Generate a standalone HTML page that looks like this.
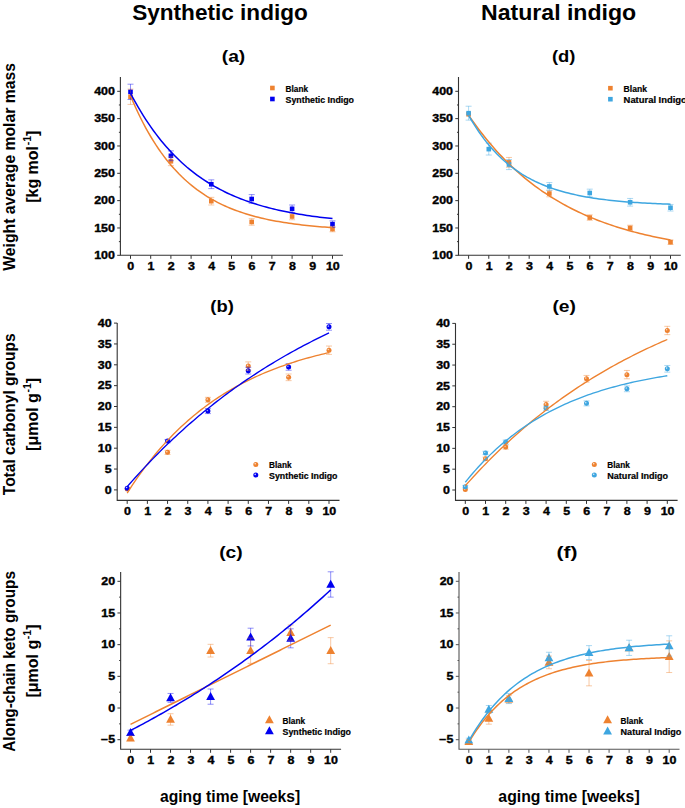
<!DOCTYPE html>
<html><head><meta charset="utf-8">
<style>
html,body{margin:0;padding:0;background:#fff;overflow:hidden}
svg{display:block}
text{font-family:"Liberation Sans", sans-serif;font-weight:bold;fill:#000}
.tk{font-size:10.2px;stroke:#000;stroke-width:0.35px}
.lg{font-size:8.6px;stroke:#000;stroke-width:0.2px}
.pl{font-size:17px}
.ti{font-size:22px}
.al{font-size:16px}
.al2{font-size:16px}
.xl{font-size:16.5px}
</style></head><body>
<svg width="685" height="808" viewBox="0 0 685 808">
<rect width="685" height="808" fill="#fff"/>
<text class="ti" x="220" y="19.7" text-anchor="middle" textLength="175.6" lengthAdjust="spacingAndGlyphs">Synthetic indigo</text>
<text class="ti" x="558.6" y="19.7" text-anchor="middle" textLength="155.2" lengthAdjust="spacingAndGlyphs">Natural indigo</text>
<text class="pl" x="233.5" y="61.5" text-anchor="middle" textLength="23.5" lengthAdjust="spacingAndGlyphs">(a)</text>
<text class="pl" x="563.7" y="61.5" text-anchor="middle" textLength="23.5" lengthAdjust="spacingAndGlyphs">(d)</text>
<text class="pl" x="222.1" y="312" text-anchor="middle" textLength="23.5" lengthAdjust="spacingAndGlyphs">(b)</text>
<text class="pl" x="564.2" y="312" text-anchor="middle" textLength="23.5" lengthAdjust="spacingAndGlyphs">(e)</text>
<text class="pl" x="230.9" y="558" text-anchor="middle" textLength="23.5" lengthAdjust="spacingAndGlyphs">(c)</text>
<text class="pl" x="567" y="558" text-anchor="middle" textLength="21" lengthAdjust="spacingAndGlyphs">(f)</text>
<g transform="translate(15,166.9) rotate(-90)"><text class="al" x="0" y="0" text-anchor="middle" textLength="207.6" lengthAdjust="spacingAndGlyphs">Weight average molar mass</text></g>
<g transform="translate(37.8,166.75) rotate(-90)"><text class="al2" x="0" y="0" text-anchor="middle">[kg mol<tspan font-size="10.5" dx="0.6" dy="-6.5">-1</tspan><tspan dy="6.5">]</tspan></text></g>
<g transform="translate(15,414.3) rotate(-90)"><text class="al" x="0" y="0" text-anchor="middle" textLength="161.8" lengthAdjust="spacingAndGlyphs">Total carbonyl groups</text></g>
<g transform="translate(37.8,414.4) rotate(-90)"><text class="al2" x="0" y="0" text-anchor="middle">[μmol g<tspan font-size="10.5" dx="0.6" dy="-6.5">-1</tspan><tspan dy="6.5">]</tspan></text></g>
<g transform="translate(15,661.4) rotate(-90)"><text class="al" x="0" y="0" text-anchor="middle" textLength="180.7" lengthAdjust="spacingAndGlyphs">Along-chain keto groups</text></g>
<g transform="translate(37.8,661) rotate(-90)"><text class="al2" x="0" y="0" text-anchor="middle">[μmol g<tspan font-size="10.5" dx="0.6" dy="-6.5">-1</tspan><tspan dy="6.5">]</tspan></text></g>
<text class="xl" x="230.1" y="801.7" text-anchor="middle" textLength="140.3" lengthAdjust="spacingAndGlyphs">aging time [weeks]</text>
<text class="xl" x="569" y="801.7" text-anchor="middle" textLength="141.3" lengthAdjust="spacingAndGlyphs">aging time [weeks]</text>
<path d="M120.40 77.10 V255.30 H342.90" fill="none" stroke="#333333" stroke-width="1.1"/>
<path d="M117.20 255.30 H120.40 M117.20 227.97 H120.40 M117.20 200.63 H120.40 M117.20 173.30 H120.40 M117.20 145.97 H120.40 M117.20 118.63 H120.40 M117.20 91.30 H120.40 M118.90 241.63 H120.40 M118.90 214.30 H120.40 M118.90 186.97 H120.40 M118.90 159.63 H120.40 M118.90 132.30 H120.40 M118.90 104.97 H120.40 M130.50 255.30 V258.80 M150.70 255.30 V258.80 M170.90 255.30 V258.80 M191.10 255.30 V258.80 M211.30 255.30 V258.80 M231.50 255.30 V258.80 M251.70 255.30 V258.80 M271.90 255.30 V258.80 M292.10 255.30 V258.80 M312.30 255.30 V258.80 M332.50 255.30 V258.80" fill="none" stroke="#333333" stroke-width="1"/>
<text class="tk" x="0" y="0" text-anchor="end" transform="translate(114.90,259.00) scale(1.22,1)">100</text>
<text class="tk" x="0" y="0" text-anchor="end" transform="translate(114.90,231.67) scale(1.22,1)">150</text>
<text class="tk" x="0" y="0" text-anchor="end" transform="translate(114.90,204.33) scale(1.22,1)">200</text>
<text class="tk" x="0" y="0" text-anchor="end" transform="translate(114.90,177.00) scale(1.22,1)">250</text>
<text class="tk" x="0" y="0" text-anchor="end" transform="translate(114.90,149.67) scale(1.22,1)">300</text>
<text class="tk" x="0" y="0" text-anchor="end" transform="translate(114.90,122.33) scale(1.22,1)">350</text>
<text class="tk" x="0" y="0" text-anchor="end" transform="translate(114.90,95.00) scale(1.22,1)">400</text>
<text class="tk" x="0" y="0" text-anchor="middle" transform="translate(130.80,269.80) scale(1.22,1)">0</text>
<text class="tk" x="0" y="0" text-anchor="middle" transform="translate(151.00,269.80) scale(1.22,1)">1</text>
<text class="tk" x="0" y="0" text-anchor="middle" transform="translate(171.20,269.80) scale(1.22,1)">2</text>
<text class="tk" x="0" y="0" text-anchor="middle" transform="translate(191.40,269.80) scale(1.22,1)">3</text>
<text class="tk" x="0" y="0" text-anchor="middle" transform="translate(211.60,269.80) scale(1.22,1)">4</text>
<text class="tk" x="0" y="0" text-anchor="middle" transform="translate(231.80,269.80) scale(1.22,1)">5</text>
<text class="tk" x="0" y="0" text-anchor="middle" transform="translate(252.00,269.80) scale(1.22,1)">6</text>
<text class="tk" x="0" y="0" text-anchor="middle" transform="translate(272.20,269.80) scale(1.22,1)">7</text>
<text class="tk" x="0" y="0" text-anchor="middle" transform="translate(292.40,269.80) scale(1.22,1)">8</text>
<text class="tk" x="0" y="0" text-anchor="middle" transform="translate(312.60,269.80) scale(1.22,1)">9</text>
<text class="tk" x="0" y="0" text-anchor="middle" transform="translate(332.80,269.80) scale(1.22,1)">10</text>
<rect x="128.20" y="94.47" width="4.6" height="4.6" fill="#EE8230"/>
<rect x="168.60" y="158.97" width="4.6" height="4.6" fill="#EE8230"/>
<rect x="209.00" y="198.88" width="4.6" height="4.6" fill="#EE8230"/>
<rect x="249.40" y="219.65" width="4.6" height="4.6" fill="#EE8230"/>
<rect x="289.80" y="214.19" width="4.6" height="4.6" fill="#EE8230"/>
<rect x="330.20" y="226.76" width="4.6" height="4.6" fill="#EE8230"/>
<rect x="128.20" y="89.55" width="4.6" height="4.6" fill="#0000F0"/>
<rect x="168.60" y="153.51" width="4.6" height="4.6" fill="#0000F0"/>
<rect x="209.00" y="181.93" width="4.6" height="4.6" fill="#0000F0"/>
<rect x="249.40" y="196.69" width="4.6" height="4.6" fill="#0000F0"/>
<rect x="289.80" y="206.53" width="4.6" height="4.6" fill="#0000F0"/>
<rect x="330.20" y="221.84" width="4.6" height="4.6" fill="#0000F0"/>
<path d="M130.50 89.11 V104.42 M127.50 89.11 H133.50 M127.50 104.42 H133.50 M170.90 156.90 V165.65 M167.90 156.90 H173.90 M167.90 165.65 H173.90 M211.30 197.35 V205.01 M208.30 197.35 H214.30 M208.30 205.01 H214.30 M251.70 218.67 V225.23 M248.70 218.67 H254.70 M248.70 225.23 H254.70 M292.10 213.21 V219.77 M289.10 213.21 H295.10 M289.10 219.77 H295.10 M332.50 226.33 V231.79 M329.50 226.33 H335.50 M329.50 231.79 H335.50" fill="none" stroke="#EE8230" stroke-opacity="0.55" stroke-width="0.8"/>
<path d="M130.50 84.19 V99.50 M127.50 84.19 H133.50 M127.50 99.50 H133.50 M170.90 150.89 V160.73 M167.90 150.89 H173.90 M167.90 160.73 H173.90 M211.30 179.86 V188.61 M208.30 179.86 H214.30 M208.30 188.61 H214.30 M251.70 194.62 V203.37 M248.70 194.62 H254.70 M248.70 203.37 H254.70 M292.10 205.01 V212.66 M289.10 205.01 H295.10 M289.10 212.66 H295.10 M332.50 220.86 V227.42 M329.50 220.86 H335.50 M329.50 227.42 H335.50" fill="none" stroke="#0000F0" stroke-opacity="0.55" stroke-width="0.8"/>
<path d="M130.50 95.81 L133.06 101.81 L135.61 107.55 L138.17 113.02 L140.73 118.26 L143.28 123.27 L145.84 128.05 L148.40 132.63 L150.96 137.00 L153.51 141.17 L156.07 145.17 L158.63 148.98 L161.18 152.63 L163.74 156.11 L166.30 159.45 L168.85 162.63 L171.41 165.67 L173.97 168.58 L176.53 171.36 L179.08 174.02 L181.64 176.56 L184.20 178.99 L186.75 181.31 L189.31 183.52 L191.87 185.64 L194.42 187.67 L196.98 189.61 L199.54 191.46 L202.09 193.22 L204.65 194.92 L207.21 196.53 L209.77 198.08 L212.32 199.55 L214.88 200.96 L217.44 202.31 L219.99 203.60 L222.55 204.83 L225.11 206.01 L227.66 207.13 L230.22 208.21 L232.78 209.24 L235.34 210.22 L237.89 211.16 L240.45 212.05 L243.01 212.91 L245.56 213.73 L248.12 214.51 L250.68 215.26 L253.23 215.98 L255.79 216.66 L258.35 217.32 L260.91 217.94 L263.46 218.54 L266.02 219.11 L268.58 219.66 L271.13 220.18 L273.69 220.67 L276.25 221.15 L278.80 221.61 L281.36 222.04 L283.92 222.46 L286.47 222.86 L289.03 223.24 L291.59 223.60 L294.15 223.95 L296.70 224.28 L299.26 224.59 L301.82 224.90 L304.37 225.19 L306.93 225.46 L309.49 225.73 L312.04 225.98 L314.60 226.22 L317.16 226.45 L319.72 226.67 L322.27 226.89 L324.83 227.09 L327.39 227.28 L329.94 227.46 L332.50 227.64" fill="none" stroke="#EE8230" stroke-width="1.5"/>
<path d="M130.50 93.23 L133.06 98.04 L135.61 102.67 L138.17 107.13 L140.73 111.43 L143.28 115.58 L145.84 119.57 L148.40 123.42 L150.96 127.14 L153.51 130.71 L156.07 134.16 L158.63 137.48 L161.18 140.68 L163.74 143.77 L166.30 146.74 L168.85 149.60 L171.41 152.37 L173.97 155.03 L176.53 157.59 L179.08 160.06 L181.64 162.45 L184.20 164.74 L186.75 166.96 L189.31 169.09 L191.87 171.14 L194.42 173.12 L196.98 175.03 L199.54 176.87 L202.09 178.65 L204.65 180.35 L207.21 182.00 L209.77 183.59 L212.32 185.12 L214.88 186.59 L217.44 188.01 L219.99 189.38 L222.55 190.70 L225.11 191.97 L227.66 193.20 L230.22 194.38 L232.78 195.52 L235.34 196.61 L237.89 197.67 L240.45 198.69 L243.01 199.67 L245.56 200.62 L248.12 201.53 L250.68 202.41 L253.23 203.26 L255.79 204.07 L258.35 204.86 L260.91 205.62 L263.46 206.35 L266.02 207.05 L268.58 207.73 L271.13 208.39 L273.69 209.02 L276.25 209.62 L278.80 210.21 L281.36 210.77 L283.92 211.32 L286.47 211.84 L289.03 212.35 L291.59 212.83 L294.15 213.30 L296.70 213.75 L299.26 214.19 L301.82 214.61 L304.37 215.02 L306.93 215.41 L309.49 215.78 L312.04 216.14 L314.60 216.49 L317.16 216.83 L319.72 217.15 L322.27 217.47 L324.83 217.77 L327.39 218.06 L329.94 218.34 L332.50 218.61" fill="none" stroke="#0000F0" stroke-width="1.5"/>
<rect x="270.10" y="85.70" width="4.6" height="4.6" fill="#EE8230"/>
<text class="lg" x="285.60" y="91.90" textLength="22.50" lengthAdjust="spacingAndGlyphs">Blank</text>
<rect x="270.10" y="96.70" width="4.6" height="4.6" fill="#0000F0"/>
<text class="lg" x="285.60" y="102.90" textLength="68.40" lengthAdjust="spacingAndGlyphs">Synthetic Indigo</text>
<path d="M458.50 77.00 V255.30 H680.80" fill="none" stroke="#333333" stroke-width="1.1"/>
<path d="M455.30 255.30 H458.50 M455.30 227.97 H458.50 M455.30 200.63 H458.50 M455.30 173.30 H458.50 M455.30 145.97 H458.50 M455.30 118.63 H458.50 M455.30 91.30 H458.50 M457.00 241.63 H458.50 M457.00 214.30 H458.50 M457.00 186.97 H458.50 M457.00 159.63 H458.50 M457.00 132.30 H458.50 M457.00 104.97 H458.50 M468.60 255.30 V258.80 M488.79 255.30 V258.80 M508.98 255.30 V258.80 M529.17 255.30 V258.80 M549.36 255.30 V258.80 M569.55 255.30 V258.80 M589.74 255.30 V258.80 M609.93 255.30 V258.80 M630.12 255.30 V258.80 M650.31 255.30 V258.80 M670.50 255.30 V258.80" fill="none" stroke="#333333" stroke-width="1"/>
<text class="tk" x="0" y="0" text-anchor="end" transform="translate(453.00,259.00) scale(1.22,1)">100</text>
<text class="tk" x="0" y="0" text-anchor="end" transform="translate(453.00,231.67) scale(1.22,1)">150</text>
<text class="tk" x="0" y="0" text-anchor="end" transform="translate(453.00,204.33) scale(1.22,1)">200</text>
<text class="tk" x="0" y="0" text-anchor="end" transform="translate(453.00,177.00) scale(1.22,1)">250</text>
<text class="tk" x="0" y="0" text-anchor="end" transform="translate(453.00,149.67) scale(1.22,1)">300</text>
<text class="tk" x="0" y="0" text-anchor="end" transform="translate(453.00,122.33) scale(1.22,1)">350</text>
<text class="tk" x="0" y="0" text-anchor="end" transform="translate(453.00,95.00) scale(1.22,1)">400</text>
<text class="tk" x="0" y="0" text-anchor="middle" transform="translate(468.90,269.80) scale(1.22,1)">0</text>
<text class="tk" x="0" y="0" text-anchor="middle" transform="translate(489.09,269.80) scale(1.22,1)">1</text>
<text class="tk" x="0" y="0" text-anchor="middle" transform="translate(509.28,269.80) scale(1.22,1)">2</text>
<text class="tk" x="0" y="0" text-anchor="middle" transform="translate(529.47,269.80) scale(1.22,1)">3</text>
<text class="tk" x="0" y="0" text-anchor="middle" transform="translate(549.66,269.80) scale(1.22,1)">4</text>
<text class="tk" x="0" y="0" text-anchor="middle" transform="translate(569.85,269.80) scale(1.22,1)">5</text>
<text class="tk" x="0" y="0" text-anchor="middle" transform="translate(590.04,269.80) scale(1.22,1)">6</text>
<text class="tk" x="0" y="0" text-anchor="middle" transform="translate(610.23,269.80) scale(1.22,1)">7</text>
<text class="tk" x="0" y="0" text-anchor="middle" transform="translate(630.42,269.80) scale(1.22,1)">8</text>
<text class="tk" x="0" y="0" text-anchor="middle" transform="translate(650.61,269.80) scale(1.22,1)">9</text>
<text class="tk" x="0" y="0" text-anchor="middle" transform="translate(670.80,269.80) scale(1.22,1)">10</text>
<rect x="466.30" y="111.96" width="4.6" height="4.6" fill="#EE8230"/>
<rect x="506.68" y="160.07" width="4.6" height="4.6" fill="#EE8230"/>
<rect x="547.06" y="191.23" width="4.6" height="4.6" fill="#EE8230"/>
<rect x="587.44" y="215.28" width="4.6" height="4.6" fill="#EE8230"/>
<rect x="627.82" y="225.67" width="4.6" height="4.6" fill="#EE8230"/>
<rect x="668.20" y="239.88" width="4.6" height="4.6" fill="#EE8230"/>
<rect x="466.30" y="110.87" width="4.6" height="4.6" fill="#3EA6E0"/>
<rect x="486.49" y="146.84" width="4.6" height="4.6" fill="#3EA6E0"/>
<rect x="506.68" y="162.25" width="4.6" height="4.6" fill="#3EA6E0"/>
<rect x="547.06" y="184.12" width="4.6" height="4.6" fill="#3EA6E0"/>
<rect x="587.44" y="190.68" width="4.6" height="4.6" fill="#3EA6E0"/>
<rect x="627.82" y="199.97" width="4.6" height="4.6" fill="#3EA6E0"/>
<rect x="668.20" y="205.44" width="4.6" height="4.6" fill="#3EA6E0"/>
<path d="M508.98 157.45 V167.29 M505.98 157.45 H511.98 M505.98 167.29 H511.98 M549.36 190.25 V196.81 M546.36 190.25 H552.36 M546.36 196.81 H552.36 M589.74 214.85 V220.31 M586.74 214.85 H592.74 M586.74 220.31 H592.74 M630.12 225.23 V230.70 M627.12 225.23 H633.12 M627.12 230.70 H633.12 M670.50 239.99 V244.37 M667.50 239.99 H673.50 M667.50 244.37 H673.50" fill="none" stroke="#EE8230" stroke-opacity="0.55" stroke-width="0.8"/>
<path d="M468.60 106.22 V120.11 M465.60 106.22 H471.60 M465.60 120.11 H471.60 M488.79 143.23 V155.04 M485.79 143.23 H491.79 M485.79 155.04 H491.79 M508.98 159.52 V169.58 M505.98 159.52 H511.98 M505.98 169.58 H511.98 M549.36 182.59 V190.25 M546.36 182.59 H552.36 M546.36 190.25 H552.36 M589.74 189.15 V196.81 M586.74 189.15 H592.74 M586.74 196.81 H592.74 M630.12 198.45 V206.10 M627.12 198.45 H633.12 M627.12 206.10 H633.12 M670.50 204.46 V211.02 M667.50 204.46 H673.50 M667.50 211.02 H673.50" fill="none" stroke="#3EA6E0" stroke-opacity="0.55" stroke-width="0.8"/>
<path d="M468.60 115.10 L471.16 118.82 L473.71 122.45 L476.27 125.99 L478.82 129.43 L481.38 132.78 L483.93 136.05 L486.49 139.23 L489.05 142.32 L491.60 145.34 L494.16 148.27 L496.71 151.13 L499.27 153.92 L501.82 156.63 L504.38 159.27 L506.94 161.84 L509.49 164.34 L512.05 166.78 L514.60 169.16 L517.16 171.47 L519.71 173.72 L522.27 175.91 L524.83 178.05 L527.38 180.13 L529.94 182.15 L532.49 184.13 L535.05 186.05 L537.60 187.92 L540.16 189.74 L542.72 191.51 L545.27 193.24 L547.83 194.92 L550.38 196.56 L552.94 198.15 L555.49 199.71 L558.05 201.22 L560.61 202.69 L563.16 204.13 L565.72 205.52 L568.27 206.88 L570.83 208.21 L573.38 209.50 L575.94 210.75 L578.49 211.98 L581.05 213.17 L583.61 214.33 L586.16 215.46 L588.72 216.56 L591.27 217.63 L593.83 218.67 L596.38 219.69 L598.94 220.68 L601.50 221.64 L604.05 222.58 L606.61 223.49 L609.16 224.38 L611.72 225.25 L614.27 226.09 L616.83 226.92 L619.39 227.72 L621.94 228.50 L624.50 229.25 L627.05 229.99 L629.61 230.71 L632.16 231.41 L634.72 232.10 L637.28 232.76 L639.83 233.41 L642.39 234.04 L644.94 234.65 L647.50 235.25 L650.05 235.83 L652.61 236.40 L655.17 236.95 L657.72 237.49 L660.28 238.01 L662.83 238.52 L665.39 239.02 L667.94 239.50 L670.50 239.97" fill="none" stroke="#EE8230" stroke-width="1.5"/>
<path d="M468.60 115.32 L471.16 119.75 L473.71 123.96 L476.27 127.96 L478.82 131.77 L481.38 135.40 L483.93 138.84 L486.49 142.12 L489.05 145.24 L491.60 148.21 L494.16 151.03 L496.71 153.71 L499.27 156.26 L501.82 158.69 L504.38 161.00 L506.94 163.19 L509.49 165.28 L512.05 167.27 L514.60 169.16 L517.16 170.95 L519.71 172.66 L522.27 174.29 L524.83 175.84 L527.38 177.31 L529.94 178.71 L532.49 180.04 L535.05 181.30 L537.60 182.50 L540.16 183.65 L542.72 184.74 L545.27 185.77 L547.83 186.76 L550.38 187.70 L552.94 188.59 L555.49 189.43 L558.05 190.24 L560.61 191.01 L563.16 191.74 L565.72 192.43 L568.27 193.09 L570.83 193.72 L573.38 194.32 L575.94 194.88 L578.49 195.42 L581.05 195.94 L583.61 196.43 L586.16 196.89 L588.72 197.33 L591.27 197.75 L593.83 198.15 L596.38 198.53 L598.94 198.89 L601.50 199.24 L604.05 199.56 L606.61 199.88 L609.16 200.17 L611.72 200.45 L614.27 200.72 L616.83 200.98 L619.39 201.22 L621.94 201.45 L624.50 201.67 L627.05 201.88 L629.61 202.07 L632.16 202.26 L634.72 202.44 L637.28 202.61 L639.83 202.78 L642.39 202.93 L644.94 203.08 L647.50 203.22 L650.05 203.35 L652.61 203.48 L655.17 203.60 L657.72 203.71 L660.28 203.82 L662.83 203.92 L665.39 204.02 L667.94 204.11 L670.50 204.20" fill="none" stroke="#3EA6E0" stroke-width="1.5"/>
<rect x="608.10" y="85.90" width="4.6" height="4.6" fill="#EE8230"/>
<text class="lg" x="623.60" y="92.10" textLength="23.40" lengthAdjust="spacingAndGlyphs">Blank</text>
<rect x="608.10" y="96.90" width="4.6" height="4.6" fill="#3EA6E0"/>
<text class="lg" x="623.60" y="103.10" textLength="63.23" lengthAdjust="spacingAndGlyphs">Natural Indigo</text>
<path d="M117.20 323.10 V500.40 H339.50" fill="none" stroke="#333333" stroke-width="1.1"/>
<path d="M114.00 489.90 H117.20 M114.00 469.05 H117.20 M114.00 448.20 H117.20 M114.00 427.35 H117.20 M114.00 406.50 H117.20 M114.00 385.65 H117.20 M114.00 364.80 H117.20 M114.00 343.95 H117.20 M114.00 323.10 H117.20 M127.20 500.40 V503.90 M147.38 500.40 V503.90 M167.56 500.40 V503.90 M187.74 500.40 V503.90 M207.92 500.40 V503.90 M228.10 500.40 V503.90 M248.28 500.40 V503.90 M268.46 500.40 V503.90 M288.64 500.40 V503.90 M308.82 500.40 V503.90 M329.00 500.40 V503.90" fill="none" stroke="#333333" stroke-width="1"/>
<text class="tk" x="0" y="0" text-anchor="end" transform="translate(111.70,493.60) scale(1.22,1)">0</text>
<text class="tk" x="0" y="0" text-anchor="end" transform="translate(111.70,472.75) scale(1.22,1)">5</text>
<text class="tk" x="0" y="0" text-anchor="end" transform="translate(111.70,451.90) scale(1.22,1)">10</text>
<text class="tk" x="0" y="0" text-anchor="end" transform="translate(111.70,431.05) scale(1.22,1)">15</text>
<text class="tk" x="0" y="0" text-anchor="end" transform="translate(111.70,410.20) scale(1.22,1)">20</text>
<text class="tk" x="0" y="0" text-anchor="end" transform="translate(111.70,389.35) scale(1.22,1)">25</text>
<text class="tk" x="0" y="0" text-anchor="end" transform="translate(111.70,368.50) scale(1.22,1)">30</text>
<text class="tk" x="0" y="0" text-anchor="end" transform="translate(111.70,347.65) scale(1.22,1)">35</text>
<text class="tk" x="0" y="0" text-anchor="end" transform="translate(111.70,326.80) scale(1.22,1)">40</text>
<text class="tk" x="0" y="0" text-anchor="middle" transform="translate(127.50,514.90) scale(1.22,1)">0</text>
<text class="tk" x="0" y="0" text-anchor="middle" transform="translate(147.68,514.90) scale(1.22,1)">1</text>
<text class="tk" x="0" y="0" text-anchor="middle" transform="translate(167.86,514.90) scale(1.22,1)">2</text>
<text class="tk" x="0" y="0" text-anchor="middle" transform="translate(188.04,514.90) scale(1.22,1)">3</text>
<text class="tk" x="0" y="0" text-anchor="middle" transform="translate(208.22,514.90) scale(1.22,1)">4</text>
<text class="tk" x="0" y="0" text-anchor="middle" transform="translate(228.40,514.90) scale(1.22,1)">5</text>
<text class="tk" x="0" y="0" text-anchor="middle" transform="translate(248.58,514.90) scale(1.22,1)">6</text>
<text class="tk" x="0" y="0" text-anchor="middle" transform="translate(268.76,514.90) scale(1.22,1)">7</text>
<text class="tk" x="0" y="0" text-anchor="middle" transform="translate(288.94,514.90) scale(1.22,1)">8</text>
<text class="tk" x="0" y="0" text-anchor="middle" transform="translate(309.12,514.90) scale(1.22,1)">9</text>
<text class="tk" x="0" y="0" text-anchor="middle" transform="translate(329.30,514.90) scale(1.22,1)">10</text>
<circle cx="127.20" cy="489.07" r="2.5" fill="#EE8230"/><circle cx="126.60" cy="488.37" r="0.8" fill="#fff" fill-opacity="0.8"/>
<circle cx="167.56" cy="452.37" r="2.5" fill="#EE8230"/><circle cx="166.96" cy="451.67" r="0.8" fill="#fff" fill-opacity="0.8"/>
<circle cx="207.92" cy="399.83" r="2.5" fill="#EE8230"/><circle cx="207.32" cy="399.13" r="0.8" fill="#fff" fill-opacity="0.8"/>
<circle cx="248.28" cy="366.05" r="2.5" fill="#EE8230"/><circle cx="247.68" cy="365.35" r="0.8" fill="#fff" fill-opacity="0.8"/>
<circle cx="288.64" cy="377.31" r="2.5" fill="#EE8230"/><circle cx="288.04" cy="376.61" r="0.8" fill="#fff" fill-opacity="0.8"/>
<circle cx="329.00" cy="350.21" r="2.5" fill="#EE8230"/><circle cx="328.40" cy="349.51" r="0.8" fill="#fff" fill-opacity="0.8"/>
<circle cx="127.20" cy="488.23" r="2.5" fill="#0000F0"/><circle cx="126.60" cy="487.53" r="0.8" fill="#fff" fill-opacity="0.8"/>
<circle cx="167.56" cy="441.11" r="2.5" fill="#0000F0"/><circle cx="166.96" cy="440.41" r="0.8" fill="#fff" fill-opacity="0.8"/>
<circle cx="207.92" cy="411.09" r="2.5" fill="#0000F0"/><circle cx="207.32" cy="410.39" r="0.8" fill="#fff" fill-opacity="0.8"/>
<circle cx="248.28" cy="370.64" r="2.5" fill="#0000F0"/><circle cx="247.68" cy="369.94" r="0.8" fill="#fff" fill-opacity="0.8"/>
<circle cx="288.64" cy="366.88" r="2.5" fill="#0000F0"/><circle cx="288.04" cy="366.19" r="0.8" fill="#fff" fill-opacity="0.8"/>
<circle cx="329.00" cy="326.85" r="2.5" fill="#0000F0"/><circle cx="328.40" cy="326.15" r="0.8" fill="#fff" fill-opacity="0.8"/>
<path d="M167.56 450.28 V454.45 M164.56 450.28 H170.56 M164.56 454.45 H170.56 M207.92 397.33 V402.33 M204.92 397.33 H210.92 M204.92 402.33 H210.92 M248.28 361.88 V370.22 M245.28 361.88 H251.28 M245.28 370.22 H251.28 M288.64 373.97 V380.65 M285.64 373.97 H291.64 M285.64 380.65 H291.64 M329.00 346.04 V354.38 M326.00 346.04 H332.00 M326.00 354.38 H332.00" fill="none" stroke="#EE8230" stroke-opacity="0.55" stroke-width="0.8"/>
<path d="M167.56 439.44 V442.78 M164.56 439.44 H170.56 M164.56 442.78 H170.56 M207.92 408.59 V413.59 M204.92 408.59 H210.92 M204.92 413.59 H210.92 M248.28 367.30 V373.97 M245.28 367.30 H251.28 M245.28 373.97 H251.28 M288.64 363.55 V370.22 M285.64 363.55 H291.64 M285.64 370.22 H291.64 M329.00 323.52 V330.19 M326.00 323.52 H332.00 M326.00 330.19 H332.00" fill="none" stroke="#0000F0" stroke-opacity="0.55" stroke-width="0.8"/>
<path d="M127.20 493.02 L129.75 489.05 L132.31 485.18 L134.86 481.41 L137.42 477.72 L139.97 474.12 L142.53 470.62 L145.08 467.19 L147.64 463.85 L150.19 460.59 L152.74 457.40 L155.30 454.30 L157.85 451.27 L160.41 448.31 L162.96 445.42 L165.52 442.61 L168.07 439.86 L170.63 437.18 L173.18 434.56 L175.73 432.00 L178.29 429.51 L180.84 427.08 L183.40 424.71 L185.95 422.39 L188.51 420.13 L191.06 417.92 L193.62 415.77 L196.17 413.67 L198.72 411.62 L201.28 409.62 L203.83 407.67 L206.39 405.76 L208.94 403.91 L211.50 402.09 L214.05 400.32 L216.61 398.59 L219.16 396.91 L221.71 395.26 L224.27 393.66 L226.82 392.09 L229.38 390.56 L231.93 389.07 L234.49 387.62 L237.04 386.19 L239.59 384.81 L242.15 383.46 L244.70 382.14 L247.26 380.85 L249.81 379.59 L252.37 378.36 L254.92 377.17 L257.48 376.00 L260.03 374.86 L262.58 373.75 L265.14 372.66 L267.69 371.60 L270.25 370.57 L272.80 369.56 L275.36 368.57 L277.91 367.61 L280.47 366.68 L283.02 365.76 L285.57 364.87 L288.13 364.00 L290.68 363.15 L293.24 362.32 L295.79 361.51 L298.35 360.72 L300.90 359.95 L303.46 359.19 L306.01 358.46 L308.56 357.74 L311.12 357.04 L313.67 356.36 L316.23 355.70 L318.78 355.05 L321.34 354.41 L323.89 353.79 L326.45 353.19 L329.00 352.60" fill="none" stroke="#EE8230" stroke-width="1.35"/>
<path d="M127.20 486.68 L129.75 483.76 L132.31 480.86 L134.86 478.01 L137.42 475.18 L139.97 472.38 L142.53 469.62 L145.08 466.89 L147.64 464.19 L150.19 461.51 L152.74 458.87 L155.30 456.26 L157.85 453.68 L160.41 451.12 L162.96 448.60 L165.52 446.10 L168.07 443.63 L170.63 441.19 L173.18 438.78 L175.73 436.39 L178.29 434.03 L180.84 431.70 L183.40 429.39 L185.95 427.11 L188.51 424.86 L191.06 422.63 L193.62 420.42 L196.17 418.24 L198.72 416.08 L201.28 413.95 L203.83 411.84 L206.39 409.76 L208.94 407.70 L211.50 405.66 L214.05 403.65 L216.61 401.65 L219.16 399.68 L221.71 397.74 L224.27 395.81 L226.82 393.91 L229.38 392.02 L231.93 390.16 L234.49 388.32 L237.04 386.50 L239.59 384.70 L242.15 382.92 L244.70 381.16 L247.26 379.42 L249.81 377.70 L252.37 376.00 L254.92 374.32 L257.48 372.65 L260.03 371.01 L262.58 369.38 L265.14 367.77 L267.69 366.18 L270.25 364.61 L272.80 363.06 L275.36 361.52 L277.91 360.00 L280.47 358.50 L283.02 357.01 L285.57 355.54 L288.13 354.09 L290.68 352.66 L293.24 351.24 L295.79 349.83 L298.35 348.44 L300.90 347.07 L303.46 345.71 L306.01 344.37 L308.56 343.04 L311.12 341.73 L313.67 340.43 L316.23 339.15 L318.78 337.88 L321.34 336.63 L323.89 335.39 L326.45 334.16 L329.00 332.95" fill="none" stroke="#0000F0" stroke-width="1.35"/>
<circle cx="255.80" cy="464.40" r="2.5" fill="#EE8230"/><circle cx="255.20" cy="463.70" r="0.8" fill="#fff" fill-opacity="0.8"/>
<text class="lg" x="269.10" y="468.30" textLength="22.50" lengthAdjust="spacingAndGlyphs">Blank</text>
<circle cx="255.80" cy="475.10" r="2.5" fill="#0000F0"/><circle cx="255.20" cy="474.40" r="0.8" fill="#fff" fill-opacity="0.8"/>
<text class="lg" x="269.10" y="479.00" textLength="68.40" lengthAdjust="spacingAndGlyphs">Synthetic Indigo</text>
<path d="M455.50 323.30 V500.40 H677.60" fill="none" stroke="#333333" stroke-width="1.1"/>
<path d="M452.30 490.00 H455.50 M452.30 469.18 H455.50 M452.30 448.35 H455.50 M452.30 427.52 H455.50 M452.30 406.70 H455.50 M452.30 385.88 H455.50 M452.30 365.05 H455.50 M452.30 344.22 H455.50 M452.30 323.40 H455.50 M465.30 500.40 V503.90 M485.50 500.40 V503.90 M505.70 500.40 V503.90 M525.90 500.40 V503.90 M546.10 500.40 V503.90 M566.30 500.40 V503.90 M586.50 500.40 V503.90 M606.70 500.40 V503.90 M626.90 500.40 V503.90 M647.10 500.40 V503.90 M667.30 500.40 V503.90" fill="none" stroke="#333333" stroke-width="1"/>
<text class="tk" x="0" y="0" text-anchor="end" transform="translate(450.00,493.70) scale(1.22,1)">0</text>
<text class="tk" x="0" y="0" text-anchor="end" transform="translate(450.00,472.88) scale(1.22,1)">5</text>
<text class="tk" x="0" y="0" text-anchor="end" transform="translate(450.00,452.05) scale(1.22,1)">10</text>
<text class="tk" x="0" y="0" text-anchor="end" transform="translate(450.00,431.22) scale(1.22,1)">15</text>
<text class="tk" x="0" y="0" text-anchor="end" transform="translate(450.00,410.40) scale(1.22,1)">20</text>
<text class="tk" x="0" y="0" text-anchor="end" transform="translate(450.00,389.57) scale(1.22,1)">25</text>
<text class="tk" x="0" y="0" text-anchor="end" transform="translate(450.00,368.75) scale(1.22,1)">30</text>
<text class="tk" x="0" y="0" text-anchor="end" transform="translate(450.00,347.92) scale(1.22,1)">35</text>
<text class="tk" x="0" y="0" text-anchor="end" transform="translate(450.00,327.10) scale(1.22,1)">40</text>
<text class="tk" x="0" y="0" text-anchor="middle" transform="translate(465.60,514.90) scale(1.22,1)">0</text>
<text class="tk" x="0" y="0" text-anchor="middle" transform="translate(485.80,514.90) scale(1.22,1)">1</text>
<text class="tk" x="0" y="0" text-anchor="middle" transform="translate(506.00,514.90) scale(1.22,1)">2</text>
<text class="tk" x="0" y="0" text-anchor="middle" transform="translate(526.20,514.90) scale(1.22,1)">3</text>
<text class="tk" x="0" y="0" text-anchor="middle" transform="translate(546.40,514.90) scale(1.22,1)">4</text>
<text class="tk" x="0" y="0" text-anchor="middle" transform="translate(566.60,514.90) scale(1.22,1)">5</text>
<text class="tk" x="0" y="0" text-anchor="middle" transform="translate(586.80,514.90) scale(1.22,1)">6</text>
<text class="tk" x="0" y="0" text-anchor="middle" transform="translate(607.00,514.90) scale(1.22,1)">7</text>
<text class="tk" x="0" y="0" text-anchor="middle" transform="translate(627.20,514.90) scale(1.22,1)">8</text>
<text class="tk" x="0" y="0" text-anchor="middle" transform="translate(647.40,514.90) scale(1.22,1)">9</text>
<text class="tk" x="0" y="0" text-anchor="middle" transform="translate(667.60,514.90) scale(1.22,1)">10</text>
<circle cx="465.30" cy="489.58" r="2.5" fill="#EE8230"/><circle cx="464.70" cy="488.88" r="0.8" fill="#fff" fill-opacity="0.8"/>
<circle cx="485.50" cy="458.76" r="2.5" fill="#EE8230"/><circle cx="484.90" cy="458.06" r="0.8" fill="#fff" fill-opacity="0.8"/>
<circle cx="505.70" cy="447.10" r="2.5" fill="#EE8230"/><circle cx="505.10" cy="446.40" r="0.8" fill="#fff" fill-opacity="0.8"/>
<circle cx="546.10" cy="404.62" r="2.5" fill="#EE8230"/><circle cx="545.50" cy="403.92" r="0.8" fill="#fff" fill-opacity="0.8"/>
<circle cx="586.50" cy="378.79" r="2.5" fill="#EE8230"/><circle cx="585.90" cy="378.09" r="0.8" fill="#fff" fill-opacity="0.8"/>
<circle cx="626.90" cy="374.63" r="2.5" fill="#EE8230"/><circle cx="626.30" cy="373.93" r="0.8" fill="#fff" fill-opacity="0.8"/>
<circle cx="667.30" cy="330.48" r="2.5" fill="#EE8230"/><circle cx="666.70" cy="329.78" r="0.8" fill="#fff" fill-opacity="0.8"/>
<circle cx="465.30" cy="486.67" r="2.5" fill="#3EA6E0"/><circle cx="464.70" cy="485.97" r="0.8" fill="#fff" fill-opacity="0.8"/>
<circle cx="485.50" cy="452.93" r="2.5" fill="#3EA6E0"/><circle cx="484.90" cy="452.23" r="0.8" fill="#fff" fill-opacity="0.8"/>
<circle cx="505.70" cy="442.10" r="2.5" fill="#3EA6E0"/><circle cx="505.10" cy="441.40" r="0.8" fill="#fff" fill-opacity="0.8"/>
<circle cx="546.10" cy="408.37" r="2.5" fill="#3EA6E0"/><circle cx="545.50" cy="407.67" r="0.8" fill="#fff" fill-opacity="0.8"/>
<circle cx="586.50" cy="403.37" r="2.5" fill="#3EA6E0"/><circle cx="585.90" cy="402.67" r="0.8" fill="#fff" fill-opacity="0.8"/>
<circle cx="626.90" cy="388.79" r="2.5" fill="#3EA6E0"/><circle cx="626.30" cy="388.09" r="0.8" fill="#fff" fill-opacity="0.8"/>
<circle cx="667.30" cy="368.80" r="2.5" fill="#3EA6E0"/><circle cx="666.70" cy="368.10" r="0.8" fill="#fff" fill-opacity="0.8"/>
<path d="M485.50 457.10 V460.43 M482.50 457.10 H488.50 M482.50 460.43 H488.50 M505.70 445.02 V449.18 M502.70 445.02 H508.70 M502.70 449.18 H508.70 M546.10 401.29 V407.95 M543.10 401.29 H549.10 M543.10 407.95 H549.10 M586.50 375.46 V382.13 M583.50 375.46 H589.50 M583.50 382.13 H589.50 M626.90 370.46 V378.79 M623.90 370.46 H629.90 M623.90 378.79 H629.90 M667.30 326.32 V334.65 M664.30 326.32 H670.30 M664.30 334.65 H670.30" fill="none" stroke="#EE8230" stroke-opacity="0.55" stroke-width="0.8"/>
<path d="M465.30 485.42 V487.92 M462.30 485.42 H468.30 M462.30 487.92 H468.30 M485.50 451.27 V454.60 M482.50 451.27 H488.50 M482.50 454.60 H488.50 M505.70 440.02 V444.19 M502.70 440.02 H508.70 M502.70 444.19 H508.70 M546.10 406.28 V410.45 M543.10 406.28 H549.10 M543.10 410.45 H549.10 M586.50 400.87 V405.87 M583.50 400.87 H589.50 M583.50 405.87 H589.50 M626.90 385.88 V391.71 M623.90 385.88 H629.90 M623.90 391.71 H629.90 M667.30 365.47 V372.13 M664.30 365.47 H670.30 M664.30 372.13 H670.30" fill="none" stroke="#3EA6E0" stroke-opacity="0.55" stroke-width="0.8"/>
<path d="M465.30 485.80 L467.86 482.92 L470.41 480.08 L472.97 477.27 L475.53 474.50 L478.08 471.76 L480.64 469.06 L483.20 466.38 L485.76 463.74 L488.31 461.14 L490.87 458.56 L493.43 456.02 L495.98 453.50 L498.54 451.02 L501.10 448.57 L503.65 446.15 L506.21 443.75 L508.77 441.39 L511.33 439.06 L513.88 436.75 L516.44 434.47 L519.00 432.22 L521.55 430.00 L524.11 427.80 L526.67 425.64 L529.22 423.49 L531.78 421.38 L534.34 419.29 L536.89 417.22 L539.45 415.19 L542.01 413.17 L544.57 411.18 L547.12 409.22 L549.68 407.28 L552.24 405.36 L554.79 403.46 L557.35 401.59 L559.91 399.75 L562.46 397.92 L565.02 396.12 L567.58 394.34 L570.14 392.58 L572.69 390.84 L575.25 389.12 L577.81 387.43 L580.36 385.75 L582.92 384.10 L585.48 382.46 L588.03 380.85 L590.59 379.26 L593.15 377.68 L595.71 376.13 L598.26 374.59 L600.82 373.07 L603.38 371.57 L605.93 370.09 L608.49 368.63 L611.05 367.18 L613.60 365.76 L616.16 364.35 L618.72 362.95 L621.27 361.58 L623.83 360.22 L626.39 358.88 L628.95 357.55 L631.50 356.24 L634.06 354.95 L636.62 353.67 L639.17 352.41 L641.73 351.16 L644.29 349.93 L646.84 348.72 L649.40 347.51 L651.96 346.33 L654.52 345.15 L657.07 344.00 L659.63 342.85 L662.19 341.72 L664.74 340.61 L667.30 339.50" fill="none" stroke="#EE8230" stroke-width="1.35"/>
<path d="M465.30 482.28 L467.86 479.12 L470.41 476.04 L472.97 473.05 L475.53 470.13 L478.08 467.29 L480.64 464.52 L483.20 461.82 L485.76 459.19 L488.31 456.63 L490.87 454.14 L493.43 451.71 L495.98 449.34 L498.54 447.04 L501.10 444.79 L503.65 442.61 L506.21 440.48 L508.77 438.40 L511.33 436.38 L513.88 434.41 L516.44 432.49 L519.00 430.63 L521.55 428.81 L524.11 427.03 L526.67 425.31 L529.22 423.63 L531.78 421.99 L534.34 420.39 L536.89 418.84 L539.45 417.32 L542.01 415.85 L544.57 414.41 L547.12 413.01 L549.68 411.65 L552.24 410.32 L554.79 409.03 L557.35 407.77 L559.91 406.54 L562.46 405.35 L565.02 404.18 L567.58 403.05 L570.14 401.94 L572.69 400.86 L575.25 399.82 L577.81 398.80 L580.36 397.80 L582.92 396.83 L585.48 395.89 L588.03 394.97 L590.59 394.07 L593.15 393.20 L595.71 392.35 L598.26 391.52 L600.82 390.72 L603.38 389.93 L605.93 389.17 L608.49 388.42 L611.05 387.69 L613.60 386.99 L616.16 386.30 L618.72 385.63 L621.27 384.97 L623.83 384.34 L626.39 383.72 L628.95 383.11 L631.50 382.52 L634.06 381.95 L636.62 381.39 L639.17 380.85 L641.73 380.32 L644.29 379.80 L646.84 379.30 L649.40 378.81 L651.96 378.33 L654.52 377.87 L657.07 377.42 L659.63 376.98 L662.19 376.55 L664.74 376.13 L667.30 375.72" fill="none" stroke="#3EA6E0" stroke-width="1.35"/>
<circle cx="594.30" cy="464.50" r="2.5" fill="#EE8230"/><circle cx="593.70" cy="463.80" r="0.8" fill="#fff" fill-opacity="0.8"/>
<text class="lg" x="607.30" y="468.40" textLength="22.50" lengthAdjust="spacingAndGlyphs">Blank</text>
<circle cx="594.30" cy="475.00" r="2.5" fill="#3EA6E0"/><circle cx="593.70" cy="474.30" r="0.8" fill="#fff" fill-opacity="0.8"/>
<text class="lg" x="607.30" y="478.90" textLength="60.80" lengthAdjust="spacingAndGlyphs">Natural Indigo</text>
<path d="M120.65 572.00 V749.30 H341.10" fill="none" stroke="#333333" stroke-width="1.1"/>
<path d="M117.45 739.70 H120.65 M117.45 708.02 H120.65 M117.45 676.34 H120.65 M117.45 644.66 H120.65 M117.45 612.98 H120.65 M117.45 581.30 H120.65 M119.15 723.86 H120.65 M119.15 692.18 H120.65 M119.15 660.50 H120.65 M119.15 628.82 H120.65 M119.15 597.14 H120.65 M130.50 749.30 V752.80 M150.52 749.30 V752.80 M170.54 749.30 V752.80 M190.56 749.30 V752.80 M210.58 749.30 V752.80 M230.60 749.30 V752.80 M250.62 749.30 V752.80 M270.64 749.30 V752.80 M290.66 749.30 V752.80 M310.68 749.30 V752.80 M330.70 749.30 V752.80" fill="none" stroke="#333333" stroke-width="1"/>
<text class="tk" x="0" y="0" text-anchor="end" transform="translate(115.15,743.40) scale(1.22,1)">−5</text>
<text class="tk" x="0" y="0" text-anchor="end" transform="translate(115.15,711.72) scale(1.22,1)">0</text>
<text class="tk" x="0" y="0" text-anchor="end" transform="translate(115.15,680.04) scale(1.22,1)">5</text>
<text class="tk" x="0" y="0" text-anchor="end" transform="translate(115.15,648.36) scale(1.22,1)">10</text>
<text class="tk" x="0" y="0" text-anchor="end" transform="translate(115.15,616.68) scale(1.22,1)">15</text>
<text class="tk" x="0" y="0" text-anchor="end" transform="translate(115.15,585.00) scale(1.22,1)">20</text>
<text class="tk" x="0" y="0" text-anchor="middle" transform="translate(130.80,763.70) scale(1.22,1)">0</text>
<text class="tk" x="0" y="0" text-anchor="middle" transform="translate(150.82,763.70) scale(1.22,1)">1</text>
<text class="tk" x="0" y="0" text-anchor="middle" transform="translate(170.84,763.70) scale(1.22,1)">2</text>
<text class="tk" x="0" y="0" text-anchor="middle" transform="translate(190.86,763.70) scale(1.22,1)">3</text>
<text class="tk" x="0" y="0" text-anchor="middle" transform="translate(210.88,763.70) scale(1.22,1)">4</text>
<text class="tk" x="0" y="0" text-anchor="middle" transform="translate(230.90,763.70) scale(1.22,1)">5</text>
<text class="tk" x="0" y="0" text-anchor="middle" transform="translate(250.92,763.70) scale(1.22,1)">6</text>
<text class="tk" x="0" y="0" text-anchor="middle" transform="translate(270.94,763.70) scale(1.22,1)">7</text>
<text class="tk" x="0" y="0" text-anchor="middle" transform="translate(290.96,763.70) scale(1.22,1)">8</text>
<text class="tk" x="0" y="0" text-anchor="middle" transform="translate(310.98,763.70) scale(1.22,1)">9</text>
<text class="tk" x="0" y="0" text-anchor="middle" transform="translate(331.00,763.70) scale(1.22,1)">10</text>
<path d="M130.50 733.48 L134.90 741.48 L126.10 741.48 Z" fill="#EE8230"/>
<path d="M170.54 714.78 L174.94 722.78 L166.14 722.78 Z" fill="#EE8230"/>
<path d="M210.58 646.04 L214.98 654.04 L206.18 654.04 Z" fill="#EE8230"/>
<path d="M250.62 646.04 L255.02 654.04 L246.22 654.04 Z" fill="#EE8230"/>
<path d="M290.66 627.98 L295.06 635.98 L286.26 635.98 Z" fill="#EE8230"/>
<path d="M330.70 646.04 L335.10 654.04 L326.30 654.04 Z" fill="#EE8230"/>
<path d="M130.50 728.09 L134.90 736.09 L126.10 736.09 Z" fill="#0000F0"/>
<path d="M170.54 693.24 L174.94 701.24 L166.14 701.24 Z" fill="#0000F0"/>
<path d="M210.58 691.98 L214.98 699.98 L206.18 699.98 Z" fill="#0000F0"/>
<path d="M250.62 632.42 L255.02 640.42 L246.22 640.42 Z" fill="#0000F0"/>
<path d="M290.66 633.68 L295.06 641.68 L286.26 641.68 Z" fill="#0000F0"/>
<path d="M330.70 579.83 L335.10 587.83 L326.30 587.83 Z" fill="#0000F0"/>
<path d="M130.50 735.58 V740.65 M127.50 735.58 H133.50 M127.50 740.65 H133.50 M170.54 713.72 V725.13 M167.54 713.72 H173.54 M167.54 725.13 H173.54 M210.58 644.34 V657.02 M207.58 644.34 H213.58 M207.58 657.02 H213.58 M250.62 638.01 V663.35 M247.62 638.01 H253.62 M247.62 663.35 H253.62 M290.66 625.02 V640.22 M287.66 625.02 H293.66 M287.66 640.22 H293.66 M330.70 637.63 V663.73 M327.70 637.63 H333.70 M327.70 663.73 H333.70" fill="none" stroke="#EE8230" stroke-opacity="0.55" stroke-width="0.8"/>
<path d="M130.50 730.20 V735.26 M127.50 730.20 H133.50 M127.50 735.26 H133.50 M170.54 693.45 V702.32 M167.54 693.45 H173.54 M167.54 702.32 H173.54 M210.58 689.01 V704.22 M207.58 689.01 H213.58 M207.58 704.22 H213.58 M250.62 628.19 V645.93 M247.62 628.19 H253.62 M247.62 645.93 H253.62 M290.66 628.82 V647.83 M287.66 628.82 H293.66 M287.66 647.83 H293.66 M330.70 571.80 V597.14 M327.70 571.80 H333.70 M327.70 597.14 H333.70" fill="none" stroke="#0000F0" stroke-opacity="0.55" stroke-width="0.8"/>
<path d="M130.50 724.36 L133.03 723.10 L135.57 721.84 L138.10 720.59 L140.64 719.33 L143.17 718.07 L145.71 716.82 L148.24 715.56 L150.77 714.30 L153.31 713.05 L155.84 711.79 L158.38 710.53 L160.91 709.28 L163.44 708.02 L165.98 706.76 L168.51 705.51 L171.05 704.25 L173.58 702.99 L176.12 701.73 L178.65 700.48 L181.18 699.22 L183.72 697.96 L186.25 696.71 L188.79 695.45 L191.32 694.19 L193.85 692.94 L196.39 691.68 L198.92 690.42 L201.46 689.17 L203.99 687.91 L206.53 686.65 L209.06 685.40 L211.59 684.14 L214.13 682.88 L216.66 681.63 L219.20 680.37 L221.73 679.11 L224.26 677.86 L226.80 676.60 L229.33 675.34 L231.87 674.09 L234.40 672.83 L236.94 671.57 L239.47 670.32 L242.00 669.06 L244.54 667.80 L247.07 666.55 L249.61 665.29 L252.14 664.03 L254.67 662.77 L257.21 661.52 L259.74 660.26 L262.28 659.00 L264.81 657.75 L267.35 656.49 L269.88 655.23 L272.41 653.98 L274.95 652.72 L277.48 651.46 L280.02 650.21 L282.55 648.95 L285.08 647.69 L287.62 646.44 L290.15 645.18 L292.69 643.92 L295.22 642.67 L297.76 641.41 L300.29 640.15 L302.82 638.90 L305.36 637.64 L307.89 636.38 L310.43 635.13 L312.96 633.87 L315.49 632.61 L318.03 631.36 L320.56 630.10 L323.10 628.84 L325.63 627.59 L328.17 626.33 L330.70 625.07" fill="none" stroke="#EE8230" stroke-width="1.5"/>
<path d="M130.50 730.49 L133.03 729.17 L135.57 727.85 L138.10 726.51 L140.64 725.16 L143.17 723.81 L145.71 722.44 L148.24 721.06 L150.77 719.68 L153.31 718.28 L155.84 716.87 L158.38 715.45 L160.91 714.02 L163.44 712.58 L165.98 711.14 L168.51 709.67 L171.05 708.20 L173.58 706.72 L176.12 705.23 L178.65 703.72 L181.18 702.21 L183.72 700.68 L186.25 699.15 L188.79 697.60 L191.32 696.04 L193.85 694.47 L196.39 692.88 L198.92 691.29 L201.46 689.68 L203.99 688.06 L206.53 686.43 L209.06 684.79 L211.59 683.13 L214.13 681.47 L216.66 679.79 L219.20 678.10 L221.73 676.39 L224.26 674.68 L226.80 672.95 L229.33 671.20 L231.87 669.45 L234.40 667.68 L236.94 665.90 L239.47 664.11 L242.00 662.30 L244.54 660.48 L247.07 658.65 L249.61 656.80 L252.14 654.94 L254.67 653.06 L257.21 651.17 L259.74 649.27 L262.28 647.35 L264.81 645.42 L267.35 643.48 L269.88 641.52 L272.41 639.54 L274.95 637.56 L277.48 635.55 L280.02 633.53 L282.55 631.50 L285.08 629.45 L287.62 627.39 L290.15 625.31 L292.69 623.22 L295.22 621.11 L297.76 618.99 L300.29 616.85 L302.82 614.69 L305.36 612.52 L307.89 610.33 L310.43 608.13 L312.96 605.91 L315.49 603.67 L318.03 601.42 L320.56 599.15 L323.10 596.86 L325.63 594.56 L328.17 592.24 L330.70 589.90" fill="none" stroke="#0000F0" stroke-width="1.5"/>
<path d="M269.40 715.26 L273.80 723.26 L265.00 723.26 Z" fill="#EE8230"/>
<text class="lg" x="282.60" y="723.80" textLength="22.50" lengthAdjust="spacingAndGlyphs">Blank</text>
<path d="M269.40 726.36 L273.80 734.36 L265.00 734.36 Z" fill="#0000F0"/>
<text class="lg" x="282.60" y="734.90" textLength="68.40" lengthAdjust="spacingAndGlyphs">Synthetic Indigo</text>
<path d="M459.00 572.00 V749.30 H679.50" fill="none" stroke="#555" stroke-width="1.1"/>
<path d="M455.80 739.70 H459.00 M455.80 708.02 H459.00 M455.80 676.34 H459.00 M455.80 644.66 H459.00 M455.80 612.98 H459.00 M455.80 581.30 H459.00 M457.50 723.86 H459.00 M457.50 692.18 H459.00 M457.50 660.50 H459.00 M457.50 628.82 H459.00 M457.50 597.14 H459.00 M468.80 749.30 V752.80 M488.84 749.30 V752.80 M508.88 749.30 V752.80 M528.92 749.30 V752.80 M548.96 749.30 V752.80 M569.00 749.30 V752.80 M589.04 749.30 V752.80 M609.08 749.30 V752.80 M629.12 749.30 V752.80 M649.16 749.30 V752.80 M669.20 749.30 V752.80" fill="none" stroke="#555" stroke-width="1"/>
<text class="tk" x="0" y="0" text-anchor="end" transform="translate(453.50,743.40) scale(1.22,1)">−5</text>
<text class="tk" x="0" y="0" text-anchor="end" transform="translate(453.50,711.72) scale(1.22,1)">0</text>
<text class="tk" x="0" y="0" text-anchor="end" transform="translate(453.50,680.04) scale(1.22,1)">5</text>
<text class="tk" x="0" y="0" text-anchor="end" transform="translate(453.50,648.36) scale(1.22,1)">10</text>
<text class="tk" x="0" y="0" text-anchor="end" transform="translate(453.50,616.68) scale(1.22,1)">15</text>
<text class="tk" x="0" y="0" text-anchor="end" transform="translate(453.50,585.00) scale(1.22,1)">20</text>
<text class="tk" x="0" y="0" text-anchor="middle" transform="translate(469.10,763.70) scale(1.22,1)">0</text>
<text class="tk" x="0" y="0" text-anchor="middle" transform="translate(489.14,763.70) scale(1.22,1)">1</text>
<text class="tk" x="0" y="0" text-anchor="middle" transform="translate(509.18,763.70) scale(1.22,1)">2</text>
<text class="tk" x="0" y="0" text-anchor="middle" transform="translate(529.22,763.70) scale(1.22,1)">3</text>
<text class="tk" x="0" y="0" text-anchor="middle" transform="translate(549.26,763.70) scale(1.22,1)">4</text>
<text class="tk" x="0" y="0" text-anchor="middle" transform="translate(569.30,763.70) scale(1.22,1)">5</text>
<text class="tk" x="0" y="0" text-anchor="middle" transform="translate(589.34,763.70) scale(1.22,1)">6</text>
<text class="tk" x="0" y="0" text-anchor="middle" transform="translate(609.38,763.70) scale(1.22,1)">7</text>
<text class="tk" x="0" y="0" text-anchor="middle" transform="translate(629.42,763.70) scale(1.22,1)">8</text>
<text class="tk" x="0" y="0" text-anchor="middle" transform="translate(649.46,763.70) scale(1.22,1)">9</text>
<text class="tk" x="0" y="0" text-anchor="middle" transform="translate(669.50,763.70) scale(1.22,1)">10</text>
<path d="M468.80 736.96 L473.20 744.96 L464.40 744.96 Z" fill="#EE8230"/>
<path d="M488.84 713.83 L493.24 721.83 L484.44 721.83 Z" fill="#EE8230"/>
<path d="M508.88 694.51 L513.28 702.51 L504.48 702.51 Z" fill="#EE8230"/>
<path d="M548.96 657.76 L553.36 665.76 L544.56 665.76 Z" fill="#EE8230"/>
<path d="M589.04 668.53 L593.44 676.53 L584.64 676.53 Z" fill="#EE8230"/>
<path d="M629.12 643.19 L633.52 651.19 L624.72 651.19 Z" fill="#EE8230"/>
<path d="M669.20 652.06 L673.60 660.06 L664.80 660.06 Z" fill="#EE8230"/>
<path d="M468.80 735.50 L473.20 743.50 L464.40 743.50 Z" fill="#3EA6E0"/>
<path d="M488.84 704.65 L493.24 712.65 L484.44 712.65 Z" fill="#3EA6E0"/>
<path d="M508.88 693.88 L513.28 701.88 L504.48 701.88 Z" fill="#3EA6E0"/>
<path d="M548.96 653.33 L553.36 661.33 L544.56 661.33 Z" fill="#3EA6E0"/>
<path d="M589.04 647.94 L593.44 655.94 L584.64 655.94 Z" fill="#3EA6E0"/>
<path d="M629.12 643.19 L633.52 651.19 L624.72 651.19 Z" fill="#3EA6E0"/>
<path d="M669.20 641.29 L673.60 649.29 L664.80 649.29 Z" fill="#3EA6E0"/>
<path d="M468.80 739.70 V743.50 M465.80 739.70 H471.80 M465.80 743.50 H471.80 M488.84 712.77 V724.18 M485.84 712.77 H491.84 M485.84 724.18 H491.84 M508.88 695.35 V702.95 M505.88 695.35 H511.88 M505.88 702.95 H511.88 M548.96 656.06 V668.74 M545.96 656.06 H551.96 M545.96 668.74 H551.96 M589.04 660.50 V685.84 M586.04 660.50 H592.04 M586.04 685.84 H592.04 M669.20 640.86 V672.54 M666.20 640.86 H672.20 M666.20 672.54 H672.20" fill="none" stroke="#EE8230" stroke-opacity="0.55" stroke-width="0.8"/>
<path d="M468.80 738.24 V742.04 M465.80 738.24 H471.80 M465.80 742.04 H471.80 M488.84 705.49 V713.09 M485.84 705.49 H491.84 M485.84 713.09 H491.84 M508.88 693.45 V703.58 M505.88 693.45 H511.88 M505.88 703.58 H511.88 M548.96 652.26 V663.67 M545.96 652.26 H551.96 M545.96 663.67 H551.96 M589.04 645.61 V659.55 M586.04 645.61 H592.04 M586.04 659.55 H592.04 M629.12 640.22 V655.43 M626.12 640.22 H632.12 M626.12 655.43 H632.12 M669.20 635.79 V656.06 M666.20 635.79 H672.20 M666.20 656.06 H672.20" fill="none" stroke="#3EA6E0" stroke-opacity="0.55" stroke-width="0.8"/>
<path d="M468.80 742.21 L471.34 738.07 L473.87 734.13 L476.41 730.37 L478.95 726.80 L481.48 723.39 L484.02 720.15 L486.56 717.07 L489.09 714.13 L491.63 711.34 L494.17 708.67 L496.70 706.14 L499.24 703.73 L501.78 701.43 L504.31 699.24 L506.85 697.16 L509.39 695.18 L511.92 693.29 L514.46 691.49 L517.00 689.78 L519.53 688.15 L522.07 686.60 L524.61 685.12 L527.14 683.72 L529.68 682.38 L532.22 681.11 L534.75 679.89 L537.29 678.74 L539.83 677.64 L542.36 676.59 L544.90 675.59 L547.44 674.64 L549.97 673.74 L552.51 672.88 L555.05 672.06 L557.58 671.28 L560.12 670.54 L562.66 669.83 L565.19 669.16 L567.73 668.52 L570.27 667.91 L572.81 667.33 L575.34 666.77 L577.88 666.25 L580.42 665.75 L582.95 665.27 L585.49 664.82 L588.03 664.38 L590.56 663.97 L593.10 663.58 L595.64 663.21 L598.17 662.85 L600.71 662.51 L603.25 662.19 L605.78 661.88 L608.32 661.59 L610.86 661.31 L613.39 661.05 L615.93 660.80 L618.47 660.56 L621.00 660.33 L623.54 660.11 L626.08 659.90 L628.61 659.71 L631.15 659.52 L633.69 659.34 L636.22 659.17 L638.76 659.01 L641.30 658.85 L643.83 658.71 L646.37 658.57 L648.91 658.43 L651.44 658.31 L653.98 658.19 L656.52 658.07 L659.05 657.96 L661.59 657.86 L664.13 657.76 L666.66 657.66 L669.20 657.57" fill="none" stroke="#EE8230" stroke-width="1.5"/>
<path d="M468.80 741.03 L471.34 736.65 L473.87 732.47 L476.41 728.46 L478.95 724.63 L481.48 720.97 L484.02 717.47 L486.56 714.13 L489.09 710.93 L491.63 707.87 L494.17 704.95 L496.70 702.15 L499.24 699.48 L501.78 696.92 L504.31 694.48 L506.85 692.14 L509.39 689.90 L511.92 687.77 L514.46 685.72 L517.00 683.77 L519.53 681.90 L522.07 680.12 L524.61 678.41 L527.14 676.78 L529.68 675.22 L532.22 673.72 L534.75 672.30 L537.29 670.93 L539.83 669.63 L542.36 668.38 L544.90 667.19 L547.44 666.05 L549.97 664.96 L552.51 663.92 L555.05 662.92 L557.58 661.97 L560.12 661.06 L562.66 660.18 L565.19 659.35 L567.73 658.55 L570.27 657.79 L572.81 657.06 L575.34 656.37 L577.88 655.70 L580.42 655.07 L582.95 654.46 L585.49 653.88 L588.03 653.32 L590.56 652.79 L593.10 652.28 L595.64 651.79 L598.17 651.33 L600.71 650.88 L603.25 650.46 L605.78 650.05 L608.32 649.66 L610.86 649.29 L613.39 648.94 L615.93 648.60 L618.47 648.27 L621.00 647.96 L623.54 647.66 L626.08 647.38 L628.61 647.11 L631.15 646.85 L633.69 646.60 L636.22 646.36 L638.76 646.14 L641.30 645.92 L643.83 645.71 L646.37 645.52 L648.91 645.33 L651.44 645.14 L653.98 644.97 L656.52 644.81 L659.05 644.65 L661.59 644.50 L664.13 644.35 L666.66 644.21 L669.20 644.08" fill="none" stroke="#3EA6E0" stroke-width="1.5"/>
<path d="M607.60 715.16 L612.00 723.16 L603.20 723.16 Z" fill="#EE8230"/>
<text class="lg" x="620.60" y="723.70" textLength="22.50" lengthAdjust="spacingAndGlyphs">Blank</text>
<path d="M607.60 726.46 L612.00 734.46 L603.20 734.46 Z" fill="#3EA6E0"/>
<text class="lg" x="620.60" y="735.00" textLength="60.80" lengthAdjust="spacingAndGlyphs">Natural Indigo</text>
</svg>
</body></html>
